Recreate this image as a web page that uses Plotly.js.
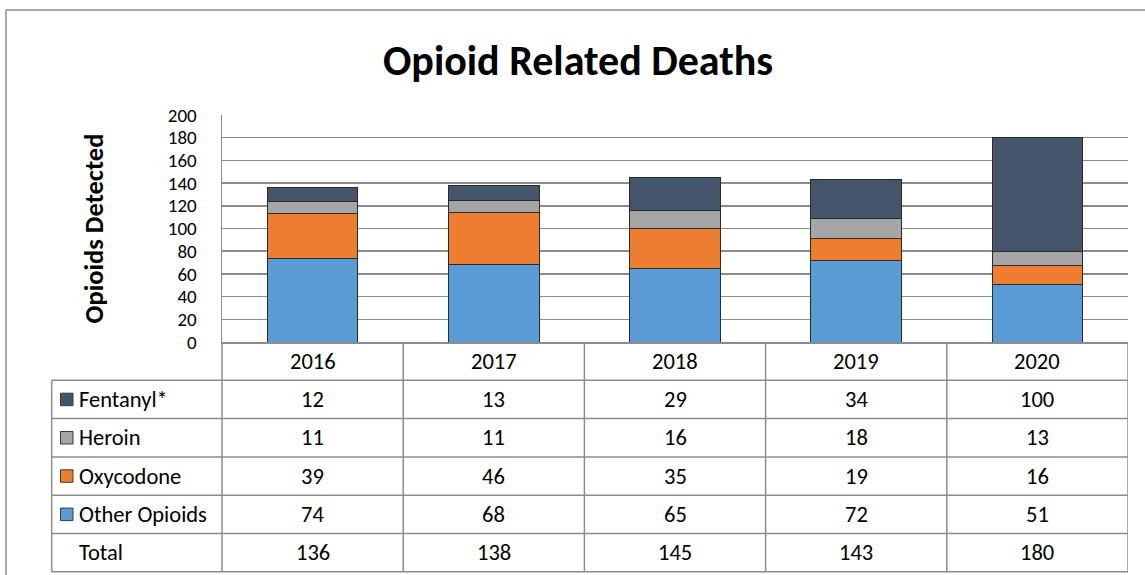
<!DOCTYPE html>
<html>
<head>
<meta charset="utf-8">
<script src="https://cdn.plot.ly/plotly-3.0.1.min.js"></script>
<style>html,body{margin:0;padding:0;background:#fff;}#chart{width:1145px;height:575px;}</style>
</head>
<body>
<div id="chart"></div>
<script>
// ---- Data ----
const years = ["2016", "2017", "2018", "2019", "2020"];
const seriesNames = ["Fentanyl*", "Heroin", "Oxycodone", "Other Opioids"];
const fentanyl = [12, 13, 29, 34, 100];
const heroin = [11, 11, 16, 18, 13];
const oxycodone = [39, 46, 35, 19, 16];
const otherOpioids = [74, 68, 65, 72, 51];
const totals = [136, 138, 145, 143, 180];
const yTicks = [0, 20, 40, 60, 80, 100, 120, 140, 160, 180, 200];

// ---- Styling ----
const colors = {"Fentanyl*": "#44546A", "Heroin": "#A5A5A5", "Oxycodone": "#ED7D31", "Other Opioids": "#5B9BD5"};
const FONT = "Carlito, Calibri, Lato, 'Open Sans', sans-serif";
const W = 1145, H = 575;
const L = 222, R = 1128, T = 115, B = 342;
const PW = R - L, PH = B - T;
const lineCol = "#8c8c8c";
const px2x = px => (px - L) / PW;
const px2y = py => (B - py) / PH;
const TABLE_FS = 22.5;

const valuesBySeries = {"Fentanyl*": fentanyl, "Heroin": heroin, "Oxycodone": oxycodone, "Other Opioids": otherOpioids};
const stackOrder = ["Other Opioids", "Oxycodone", "Heroin", "Fentanyl*"];

const traces = stackOrder.map(name => ({
  type: "bar",
  name: name,
  x: years,
  y: valuesBySeries[name],
  marker: {color: colors[name], line: {color: "#2b2b2b", width: 1}},
  hoverinfo: "x+y+name"
}));

// ---- Data table (shapes + annotations) ----
const rowH = 38.3;
const tableLeft = 51.7;
const rows = seriesNames.map(n => ({label: n, vals: valuesBySeries[n], swatch: colors[n]}));
rows.push({label: "Total", vals: totals, swatch: null});

const shapes = [];
const annotations = [];
const nRows = rows.length;
const tableBottom = B + rowH * (nRows + 1);

// outer chart border (top and left)
shapes.push({type: "line", xref: "paper", yref: "paper", x0: px2x(6), x1: px2x(W), y0: px2y(10), y1: px2y(10), line: {color: lineCol, width: 1.5}});
shapes.push({type: "line", xref: "paper", yref: "paper", x0: px2x(6), x1: px2x(6), y0: px2y(10), y1: px2y(H + 5), line: {color: lineCol, width: 1.5}});

// horizontal table lines
for (let r = 1; r <= nRows + 1; r++) {
  const py = B + rowH * r;
  shapes.push({type: "line", xref: "paper", yref: "paper", x0: px2x(tableLeft), x1: 1, y0: px2y(py), y1: px2y(py), line: {color: lineCol, width: 1.5}});
}
// vertical lines: table left, label column right
shapes.push({type: "line", xref: "paper", yref: "paper", x0: px2x(tableLeft), x1: px2x(tableLeft), y0: px2y(B + rowH), y1: px2y(tableBottom), line: {color: lineCol, width: 1.5}});
shapes.push({type: "line", xref: "paper", yref: "paper", x0: 0, x1: 0, y0: 0, y1: px2y(tableBottom), line: {color: lineCol, width: 1.5}});
// category column boundaries
for (let i = 0; i < years.length; i++) {
  shapes.push({type: "line", xref: "x", yref: "paper", x0: i + 0.5, x1: i + 0.5, y0: 0, y1: px2y(tableBottom), line: {color: lineCol, width: 1.5}});
}
// header: years
years.forEach((yr, i) => {
  annotations.push({xref: "x", yref: "paper", x: i, y: px2y(B + rowH / 2), text: yr, showarrow: false, xanchor: "center", yanchor: "middle", font: {family: FONT, size: TABLE_FS, color: "#000"}});
});
// rows
const swSize = 12.5;
rows.forEach((row, r) => {
  const cy = B + rowH * (r + 1.5);
  if (row.swatch) {
    shapes.push({type: "rect", xref: "paper", yref: "paper", x0: px2x(60.5), x1: px2x(60.5 + swSize), y0: px2y(cy - swSize / 2), y1: px2y(cy + swSize / 2), fillcolor: row.swatch, line: {color: "#3a3a3a", width: 1}});
  }
  annotations.push({xref: "paper", yref: "paper", x: px2x(77), y: px2y(cy), text: row.label, showarrow: false, xanchor: "left", yanchor: "middle", font: {family: FONT, size: TABLE_FS, color: "#000"}});
  row.vals.forEach((v, i) => {
    annotations.push({xref: "x", yref: "paper", x: i, y: px2y(cy), text: String(v), showarrow: false, xanchor: "center", yanchor: "middle", font: {family: FONT, size: TABLE_FS, color: "#000"}});
  });
});

const layout = {
  width: W, height: H,
  margin: {l: L, r: W - R, t: T, b: H - B, pad: 0},
  paper_bgcolor: "#fff", plot_bgcolor: "#fff",
  barmode: "stack", bargap: 0.5,
  showlegend: false,
  title: {text: "<b>Opioid Related Deaths</b>", x: 578 / W, xanchor: "center", xref: "container", y: 1 - 60 / H, yref: "container", yanchor: "middle", font: {family: FONT, size: 42, color: "#000"}},
  xaxis: {type: "category", range: [-0.5, years.length - 0.5], showticklabels: false, ticks: "", showgrid: false, zeroline: false, showline: true, linecolor: lineCol, linewidth: 1.5, fixedrange: true},
  yaxis: {range: [0, 200], tickvals: yTicks, ticktext: yTicks.map(String), showgrid: true, gridcolor: lineCol, gridwidth: 1.5, zeroline: false, showline: true, linecolor: lineCol, linewidth: 1.5, ticks: "outside", ticklen: 20, tickcolor: "rgba(0,0,0,0)", tickfont: {family: FONT, size: 19, color: "#000"},
    title: {text: "<b>Opioids Detected</b>", font: {family: FONT, size: 26.5, color: "#000"}, standoff: 56}, fixedrange: true},
  shapes: shapes,
  annotations: annotations
};

Plotly.newPlot("chart", traces, layout, {displayModeBar: false, staticPlot: true});
</script>
</body>
</html>
